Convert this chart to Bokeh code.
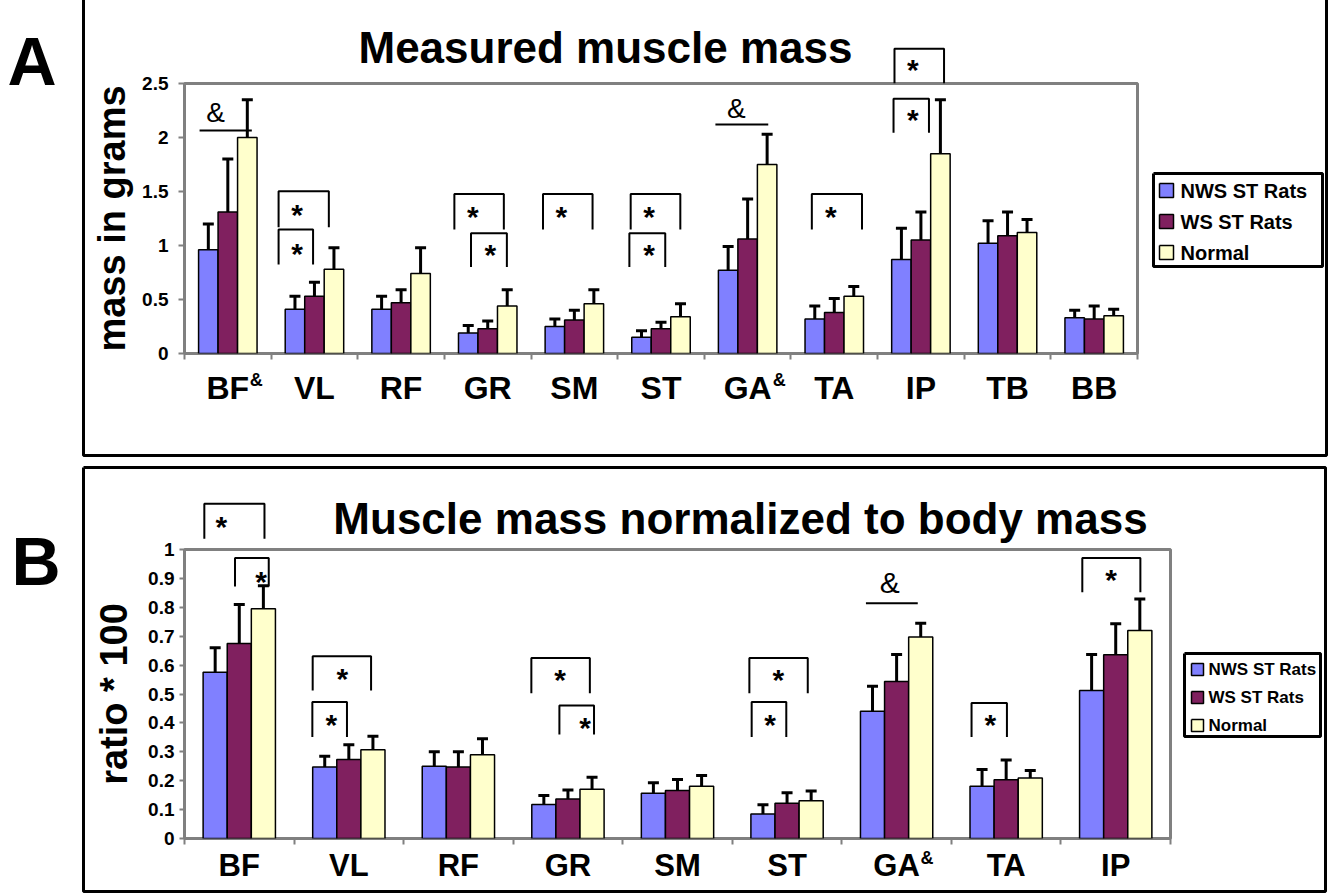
from bokeh.plotting import figure
from bokeh.models import FixedTicker, ColumnDataSource, Range1d
from bokeh.layouts import column
from bokeh.embed import file_html
from bokeh.resources import INLINE
from bokeh.core.properties import value

FONT = "Liberation Sans"
SERIES = ["NWS ST Rats", "WS ST Rats", "Normal"]
COLORS = ["#8080ff", "#80205f", "#ffffcc"]

# ---------------- Panel A: measured muscle mass (grams) ----------------
muscles_a = ["BF", "VL", "RF", "GR", "SM", "ST", "GA", "TA", "IP", "TB", "BB"]
amp_a = ["BF", "GA"]
nws_a = [0.96, 0.41, 0.41, 0.19, 0.25, 0.15, 0.77, 0.32, 0.87, 1.02, 0.33]
nws_a_sd = [0.24, 0.12, 0.12, 0.07, 0.07, 0.06, 0.22, 0.12, 0.29, 0.21, 0.07]
ws_a = [1.31, 0.53, 0.47, 0.23, 0.31, 0.23, 1.06, 0.38, 1.05, 1.09, 0.32]
ws_a_sd = [0.49, 0.13, 0.12, 0.07, 0.09, 0.06, 0.37, 0.13, 0.26, 0.22, 0.12]
normal_a = [2.00, 0.78, 0.74, 0.44, 0.46, 0.34, 1.75, 0.53, 1.85, 1.12, 0.35]
normal_a_sd = [0.35, 0.20, 0.24, 0.15, 0.13, 0.12, 0.28, 0.09, 0.50, 0.12, 0.06]
yticks_a = [0, 0.5, 1, 1.5, 2, 2.5]
ylabels_a = ["0", "0.5", "1", "1.5", "2", "2.5"]
# significance brackets: (x0, x1, y_top, y_leg_end) in data units, stars (x, y)
brackets_a = [(1.086, 1.666, 1.503, 1.17), (1.086, 1.484, 1.148, 0.824),
              (3.115, 3.686, 1.478, 1.148), (3.307, 3.721, 1.114, 0.80),
              (4.138, 4.710, 1.478, 1.148),
              (5.150, 5.723, 1.478, 1.148), (5.135, 5.549, 1.114, 0.80),
              (7.241, 7.820, 1.478, 1.148),
              (8.195, 8.767, 2.821, 2.503), (8.184, 8.593, 2.358, 2.043)]
stars_a = [(1.30, 1.34), (1.30, 0.98), (3.327, 1.324), (3.53, 0.972), (4.35, 1.324),
           (5.363, 1.324), (5.363, 0.972), (7.461, 1.324), (8.407, 2.682), (8.407, 2.219)]
amp_lines_a = [(0.174, 0.777, 2.065), (6.128, 6.738, 2.12)]
amp_marks_a = [(0.36, 2.23), (6.37, 2.266)]

# ---------------- Panel B: normalized to body mass ----------------
muscles_b = ["BF", "VL", "RF", "GR", "SM", "ST", "GA", "TA", "IP"]
amp_b = ["GA"]
nws_b = [0.575, 0.247, 0.250, 0.118, 0.157, 0.085, 0.440, 0.181, 0.512]
nws_b_sd = [0.085, 0.038, 0.050, 0.031, 0.036, 0.032, 0.087, 0.058, 0.125]
ws_b = [0.675, 0.273, 0.247, 0.137, 0.166, 0.122, 0.543, 0.203, 0.636]
ws_b_sd = [0.135, 0.051, 0.053, 0.031, 0.038, 0.036, 0.094, 0.069, 0.107]
normal_b = [0.795, 0.307, 0.290, 0.170, 0.181, 0.131, 0.697, 0.209, 0.720]
normal_b_sd = [0.080, 0.047, 0.055, 0.042, 0.037, 0.033, 0.048, 0.026, 0.109]
yticks_b = [0, 0.1, 0.2, 0.3, 0.4, 0.5, 0.6, 0.7, 0.8, 0.9, 1]
ylabels_b = ["0", "0.1", "0.2", "0.3", "0.4", "0.5", "0.6", "0.7", "0.8", "0.9", "1"]
brackets_b = [(0.181, 0.730, 1.158, 1.037), (0.461, 0.769, 0.971, 0.872),
              (1.170, 1.703, 0.631, 0.512), (1.167, 1.483, 0.472, 0.351),
              (3.166, 3.700, 0.625, 0.503), (3.422, 3.738, 0.460, 0.360),
              (5.156, 5.689, 0.625, 0.503), (5.177, 5.493, 0.472, 0.351),
              (7.184, 7.507, 0.469, 0.351),
              (8.195, 8.725, 0.971, 0.852)]
stars_b = [(0.337, 1.10), (0.699, 0.91), (1.441, 0.575), (1.341, 0.414), (3.428, 0.57),
           (3.657, 0.406), (5.421, 0.57), (5.346, 0.414), (7.356, 0.414), (8.457, 0.916)]
amp_lines_b = [(6.22, 6.693, 0.814)]
amp_marks_b = [(6.437, 0.887)]


def build(cfg):
    muscles = cfg["muscles"]
    n = len(muscles)
    ymax = cfg["ymax"]
    ox, oy = cfg["origin"]
    W, H = cfg["size"]
    FL, FT, FR, FB = cfg["frame"]

    def dx(px):
        return (px - FL) / (FR - FL) * n

    def dy(py):
        return (FB - py) / (FB - FT) * ymax

    p = figure(frame_width=FR - FL, frame_height=FB - FT,
               x_range=Range1d(0, n), y_range=Range1d(0, ymax),
               min_border_left=FL - ox, min_border_right=ox + W - FR,
               min_border_top=FT - oy, min_border_bottom=oy + H - FB,
               output_backend="svg", toolbar_location=None, tools="")
    p.xgrid.grid_line_color = None
    p.ygrid.grid_line_color = None
    p.outline_line_color = "#808080"
    p.outline_line_width = 3
    p.background_fill_color = "white"
    p.border_fill_color = "white"

    bw = cfg["bar_w"]
    for s in range(3):
        means, sds = cfg["means"][s], cfg["sds"][s]
        src = ColumnDataSource(dict(
            x=[i + 0.5 + (s - 1) * bw for i in range(n)],
            top=means,
            hi=[m + e for m, e in zip(means, sds)]))
        p.vbar(x="x", top="top", bottom=0, width=bw, source=src,
               fill_color=COLORS[s], line_color="black", line_width=1.5)
        p.segment(x0="x", y0="top", x1="x", y1="hi", source=src,
                  line_color="black", line_width=3)
        p.scatter(x="x", y="hi", marker="dash", size=11, source=src,
                  line_color="black", line_width=3)

    # axes
    xa = p.xaxis[0]
    xa.ticker = FixedTicker(ticks=[i + 0.5 for i in range(n)], minor_ticks=list(range(n + 1)))
    xa.major_label_overrides = {i + 0.5: m for i, m in enumerate(muscles)}
    xa.major_tick_out = 0
    xa.major_tick_in = 0
    xa.minor_tick_out = 6
    xa.minor_tick_in = 0
    xa.minor_tick_line_color = "#808080"
    xa.minor_tick_line_width = 2
    xa.axis_line_color = None
    xa.major_label_text_font = FONT
    xa.major_label_text_font_style = "bold"
    xa.major_label_text_font_size = cfg["xlab_size"]
    xa.major_label_text_color = "black"
    xa.major_label_standoff = cfg["xlab_standoff"]

    ya = p.yaxis[0]
    ya.ticker = FixedTicker(ticks=cfg["yticks"], minor_ticks=[])
    ya.major_label_overrides = dict(zip(cfg["yticks"], cfg["ylabels"]))
    ya.major_tick_out = cfg["ytick_out"]
    ya.major_tick_in = 0
    ya.minor_tick_out = 0
    ya.minor_tick_in = 0
    ya.major_tick_line_color = "#808080"
    ya.major_tick_line_width = 2
    ya.axis_line_color = None
    ya.major_label_text_font = FONT
    ya.major_label_text_font_style = "bold"
    ya.major_label_text_font_size = "19px"
    ya.major_label_text_color = "black"
    ya.major_label_standoff = cfg["ylab_standoff"]
    ya.axis_label = cfg["ytitle"]
    ya.axis_label_text_font = FONT
    ya.axis_label_text_font_style = "bold"
    ya.axis_label_text_font_size = "38px"
    ya.axis_label_text_color = "black"
    ya.axis_label_standoff = cfg["ytitle_standoff"]

    # superscript "&" after some category labels
    sup_x = [muscles.index(m) + 0.5 for m in cfg["amp"]]
    p.text(x=sup_x, y=[0] * len(sup_x), text=["&"] * len(sup_x),
           x_offset=cfg["amp_dx"], y_offset=cfg["amp_dy"],
           text_font=value(FONT), text_font_style="bold", text_font_size="18px",
           text_align="left", text_baseline="top", text_color="black", level="overlay")

    # significance brackets and stars
    bx = [[b[0], b[0], b[1], b[1]] for b in cfg["brackets"]]
    by = [[b[3], b[2], b[2], b[3]] for b in cfg["brackets"]]
    p.multi_line(xs=bx, ys=by, line_color="black", line_width=2, level="overlay")
    p.text(x=[s[0] for s in cfg["stars"]], y=[s[1] for s in cfg["stars"]],
           text=["*"] * len(cfg["stars"]), text_font=value(FONT), text_font_style="bold",
           text_font_size="30px", text_align="center", text_baseline="middle",
           y_offset=6, text_color="black", level="overlay")
    p.segment(x0=[a[0] for a in cfg["amp_lines"]], x1=[a[1] for a in cfg["amp_lines"]],
              y0=[a[2] for a in cfg["amp_lines"]], y1=[a[2] for a in cfg["amp_lines"]],
              line_color="black", line_width=2, level="overlay")
    p.text(x=[a[0] for a in cfg["amp_marks"]], y=[a[1] for a in cfg["amp_marks"]],
           text=["&"] * len(cfg["amp_marks"]), text_font=value(FONT),
           text_font_size=cfg["amp_size"], text_align="center", text_baseline="middle",
           text_color="black", level="overlay")

    # outer panel box
    L, T, R, B = cfg["box"]
    p.multi_line(xs=[[dx(L), dx(L), dx(R), dx(R), dx(L)]],
                 ys=[[dy(T), dy(B), dy(B), dy(T), dy(T)]],
                 line_color="black", line_width=3, level="overlay")

    # title and panel letter
    tx, ty = cfg["title_pos"]
    p.text(x=[dx(tx)], y=[dy(ty)], text=[cfg["title"]], text_font=value(FONT),
           text_font_style="bold", text_font_size="44px", text_align="center",
           text_baseline="alphabetic", text_color="black", level="overlay")
    lx, ly = cfg["letter_pos"]
    p.text(x=[dx(lx)], y=[dy(ly)], text=[cfg["letter"]], text_font=value(FONT),
           text_font_style="bold", text_font_size="68px", text_align="left",
           text_baseline="alphabetic", text_color="black", level="overlay")

    # legend (drawn outside the plot frame, right of the chart)
    gL, gT, gR, gB = cfg["legend_box"]
    p.multi_line(xs=[[dx(gL), dx(gL), dx(gR), dx(gR), dx(gL)]],
                 ys=[[dy(gT), dy(gB), dy(gB), dy(gT), dy(gT)]],
                 line_color="black", line_width=3, level="overlay")
    rows = cfg["legend_rows"]
    sw_x, txt_x = cfg["legend_x"]
    h = cfg["glyph"] / 2.0
    # swatch fill (a thick butt-capped stroke) and its black outline
    p.multi_line(xs=[[dx(sw_x - h), dx(sw_x + h)] for _ in rows],
                 ys=[[dy(r), dy(r)] for r in rows],
                 line_color=COLORS, line_width=cfg["glyph"], line_cap="butt", level="overlay")
    p.multi_line(xs=[[dx(sw_x - h), dx(sw_x - h), dx(sw_x + h), dx(sw_x + h), dx(sw_x - h)] for _ in rows],
                 ys=[[dy(r - h), dy(r + h), dy(r + h), dy(r - h), dy(r - h)] for r in rows],
                 line_color="black", line_width=1.5, level="overlay")
    p.text(x=[dx(txt_x)] * 3, y=[dy(r) for r in rows], text=SERIES,
           text_font=value(FONT), text_font_style="bold", text_font_size=cfg["legend_size"],
           text_align="left", text_baseline="middle", text_color="black", level="overlay")
    return p


cfg_a = dict(
    muscles=muscles_a, amp=amp_a, ymax=2.5, yticks=yticks_a, ylabels=ylabels_a,
    means=[nws_a, ws_a, normal_a], sds=[nws_a_sd, ws_a_sd, normal_a_sd],
    brackets=brackets_a, stars=stars_a, amp_lines=amp_lines_a, amp_marks=amp_marks_a,
    origin=(0, 0), size=(1334, 460), frame=(184, 83, 1137, 353), bar_w=0.225,
    xlab_size="32px", xlab_standoff=10, ytick_out=6, ylab_standoff=10,
    ytitle="mass in grams", ytitle_standoff=6, amp_dx=[22, 25], amp_dy=16, amp_size="28px",
    box=(83, -6, 1326, 455), title="Measured muscle mass", title_pos=(605, 47),
    letter="A", letter_pos=(7, 60), legend_size="20px", glyph=14,
    legend_box=(1153, 173, 1322, 266), legend_rows=(190, 221, 252), legend_x=(1166, 1180),
)
cfg_b = dict(
    muscles=muscles_b, amp=amp_b, ymax=1.0, yticks=yticks_b, ylabels=ylabels_b,
    means=[nws_b, ws_b, normal_b], sds=[nws_b_sd, ws_b_sd, normal_b_sd],
    brackets=brackets_b, stars=stars_b, amp_lines=amp_lines_b, amp_marks=amp_marks_b,
    origin=(0, 460), size=(1334, 433), frame=(184, 549, 1170, 838), bar_w=0.22,
    xlab_size="31px", xlab_standoff=3, ytick_out=5, ylab_standoff=5,
    ytitle="ratio * 100", ytitle_standoff=10, amp_dx=[24], amp_dy=9, amp_size="30px",
    box=(83, 467, 1325, 891), title="Muscle mass normalized to body mass", title_pos=(740, 518),
    letter="B", letter_pos=(11, 560), legend_size="17px", glyph=12,
    legend_box=(1184, 653, 1320, 736), legend_rows=(669, 697, 725), legend_x=(1197, 1208),
)

pa = build(cfg_a)
pb = build(cfg_b)
layout = column(pa, pb, spacing=0)
open("out.html", "w").write(file_html(layout, INLINE))
